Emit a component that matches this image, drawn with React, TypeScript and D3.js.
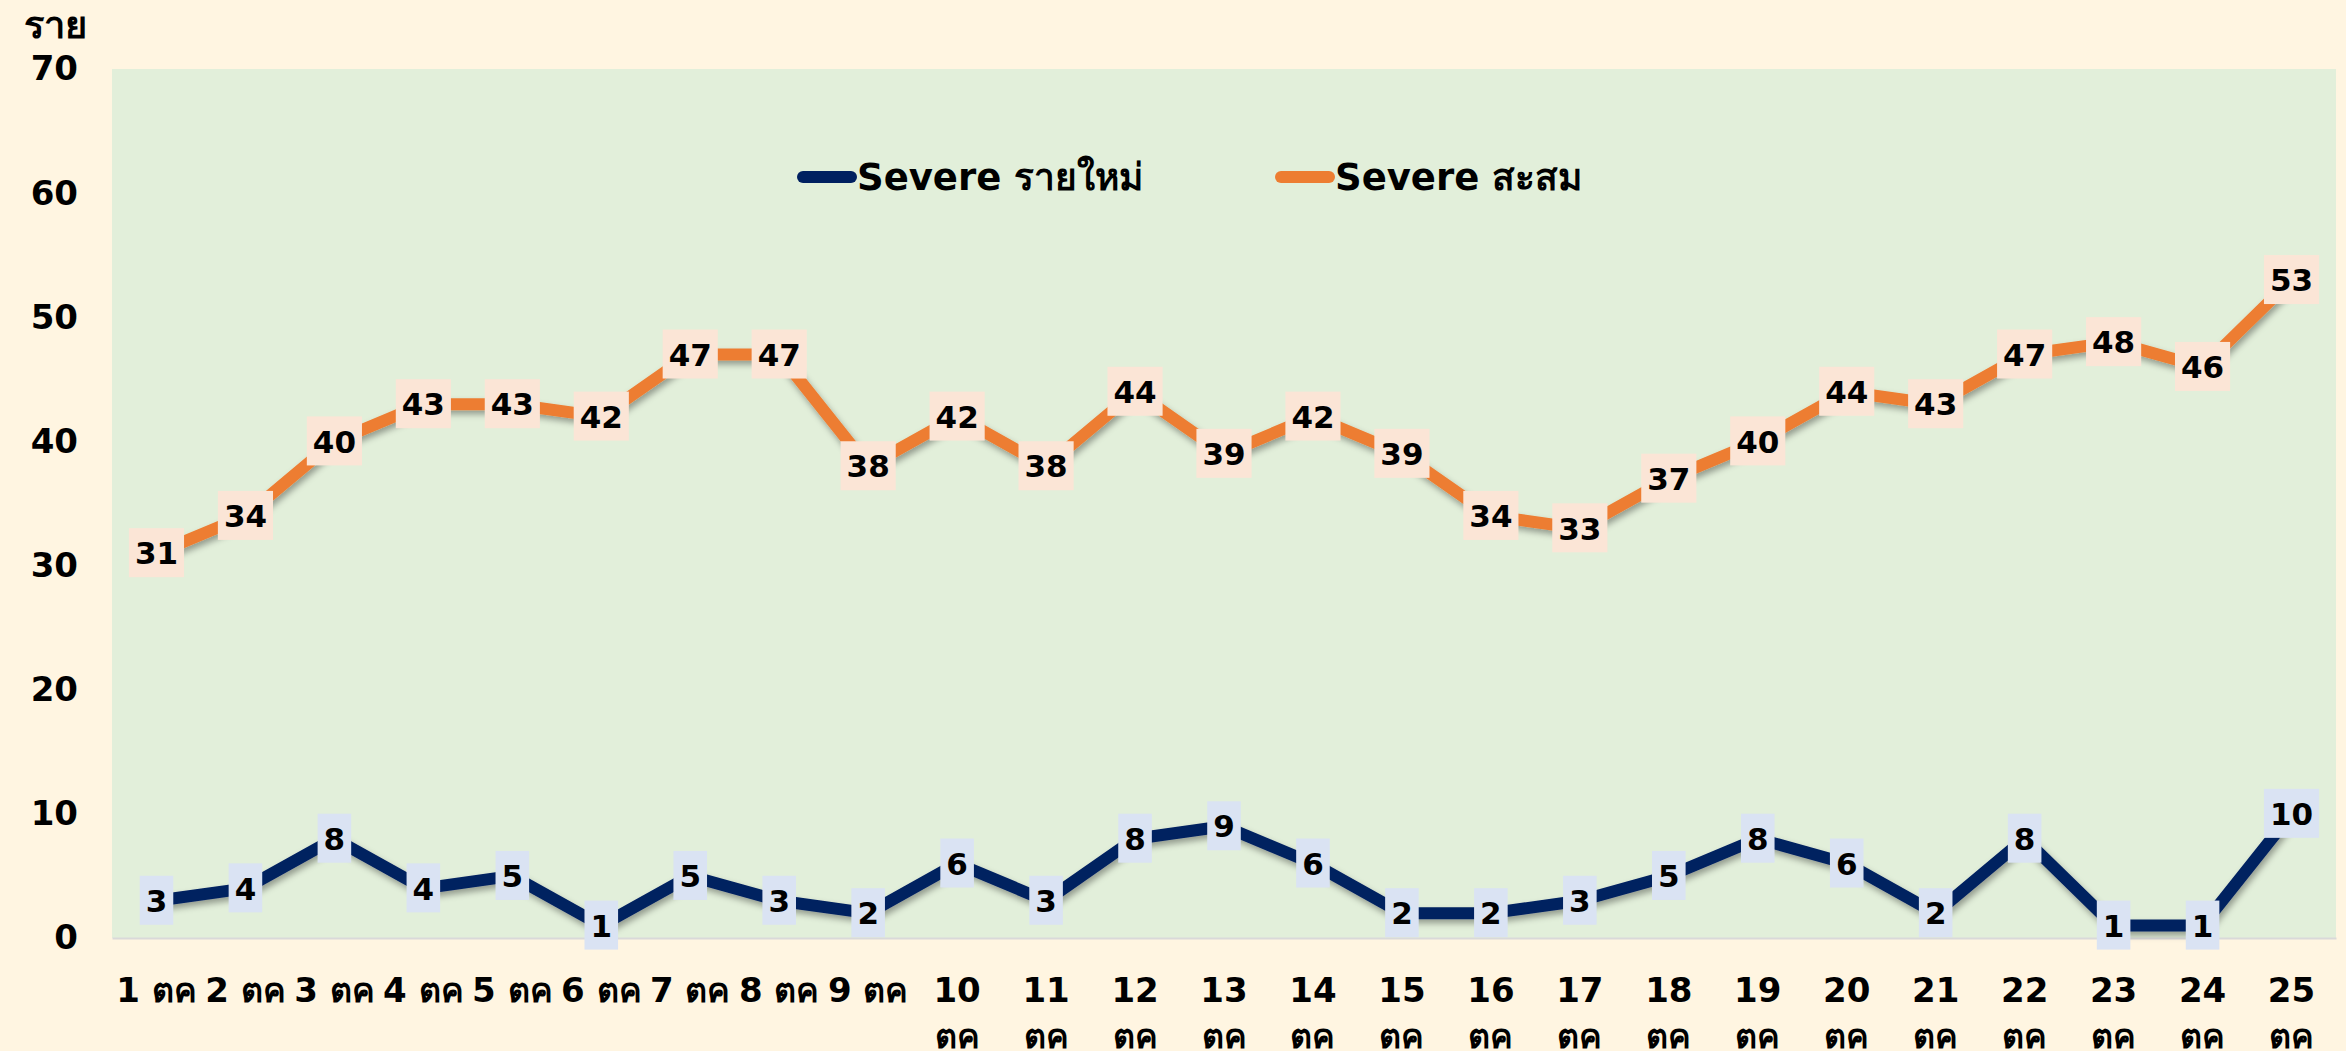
import { useEffect, useRef } from "react";
import * as d3 from "d3";

const days = [
  "1 ตค", "2 ตค", "3 ตค", "4 ตค", "5 ตค", "6 ตค", "7 ตค", "8 ตค", "9 ตค",
  "10 ตค", "11 ตค", "12 ตค", "13 ตค", "14 ตค", "15 ตค", "16 ตค", "17 ตค",
  "18 ตค", "19 ตค", "20 ตค", "21 ตค", "22 ตค", "23 ตค", "24 ตค", "25 ตค",
];
const severeNew = [3, 4, 8, 4, 5, 1, 5, 3, 2, 6, 3, 8, 9, 6, 2, 2, 3, 5, 8, 6, 2, 8, 1, 1, 10];
const severeTotal = [31, 34, 40, 43, 43, 42, 47, 47, 38, 42, 38, 44, 39, 42, 39, 34, 33, 37, 40, 44, 43, 47, 48, 46, 53];
const yTicks = [0, 10, 20, 30, 40, 50, 60, 70];
const seriesNames = ["Severe รายใหม่", "Severe สะสม"];
const yUnit = "ราย";

const W = 2346;
const H = 1051;
const FONT = "Tahoma, 'DejaVu Sans', 'Noto Sans', sans-serif";

export default function App() {
  const ref = useRef<SVGSVGElement>(null);

  useEffect(() => {
    if (!ref.current) return;
    const margin = { top: 69, right: 10, bottom: 113, left: 112 };

    const svg = d3.select(ref.current);
    svg.selectAll("*").remove();

    // soft shadow under the lines
    const defs = svg.append("defs");
    defs.append("filter")
      .attr("id", "shadow")
      .attr("x", "-10%").attr("y", "-30%")
      .attr("width", "120%").attr("height", "160%")
      .append("feDropShadow")
      .attr("dx", 2).attr("dy", 4)
      .attr("stdDeviation", 3)
      .attr("flood-color", "#000")
      .attr("flood-opacity", 0.35);

    svg.append("rect").attr("width", W).attr("height", H).attr("fill", "#FFF5E1");

    const x = d3.scaleBand().domain(days).range([margin.left, W - margin.right]);
    const y = d3.scaleLinear().domain([0, 70]).range([H - margin.bottom, margin.top]);
    const cx = (d: string) => (x(d) as number) + x.bandwidth() / 2;

    // plot area
    svg.append("rect")
      .attr("x", margin.left)
      .attr("y", margin.top)
      .attr("width", W - margin.left - margin.right)
      .attr("height", y(0) - margin.top)
      .attr("fill", "#E2EFDA");

    // Y axis
    const yAxis = svg.append("g")
      .attr("transform", `translate(${margin.left},0)`)
      .call(d3.axisLeft(y).tickValues(yTicks).tickSize(0).tickPadding(34))
      .call(g => g.select(".domain").remove());
    yAxis.selectAll("text")
      .attr("font-family", FONT)
      .attr("font-size", 34)
      .attr("font-weight", "bold")
      .attr("fill", "#000");

    svg.append("text")
      .attr("x", 87)
      .attr("y", 38)
      .attr("text-anchor", "end")
      .attr("font-family", FONT)
      .attr("font-size", 38)
      .attr("font-weight", "bold")
      .text(yUnit);

    // X axis, labels from 10 on wrap onto two lines
    const xAxis = svg.append("g")
      .attr("transform", `translate(0,${y(0)})`)
      .call(d3.axisBottom(x).tickSize(0));
    xAxis.select(".domain").attr("stroke", "#D9D9D9").attr("stroke-width", 2);
    xAxis.selectAll<SVGTextElement, string>(".tick text")
      .attr("font-family", FONT)
      .attr("font-size", 34)
      .attr("font-weight", "bold")
      .attr("fill", "#000")
      .attr("dy", null)
      .each(function (d) {
        const t = d3.select(this);
        t.text(null);
        const parts = d.length > 4 ? d.split(" ") : [d];
        parts.forEach((p, i) => {
          t.append("tspan").attr("x", 0).attr("y", 64 + i * 46).text(p);
        });
      });

    const series = [
      { values: severeTotal, color: "#ED7D31", box: "#FBE5D6" },
      { values: severeNew, color: "#002060", box: "#DAE3F3" },
    ];

    const line = d3.line<number>()
      .x((_, i) => cx(days[i]))
      .y(d => y(d));

    series.forEach(s => {
      svg.append("path")
        .datum(s.values)
        .attr("fill", "none")
        .attr("stroke", s.color)
        .attr("stroke-width", 12)
        .attr("stroke-linejoin", "round")
        .attr("filter", "url(#shadow)")
        .attr("d", line);
    });

    // data labels
    series.forEach(s => {
      const g = svg.append("g");
      s.values.forEach((v, i) => {
        const lg = g.append("g").attr("transform", `translate(${cx(days[i])},${y(v)})`);
        const rect = lg.append("rect").attr("fill", s.box);
        const txt = lg.append("text")
          .attr("text-anchor", "middle")
          .attr("dy", "0.36em")
          .attr("font-family", FONT)
          .attr("font-size", 31)
          .attr("font-weight", "bold")
          .attr("fill", "#000")
          .text(v);
        const w = (txt.node() as SVGTextElement).getComputedTextLength() + 12;
        rect.attr("x", -w / 2).attr("y", -25).attr("width", w).attr("height", 49);
      });
    });

    // legend
    const legendX = [797, 1275];
    const legendY = 177;
    [series[1], series[0]].forEach((s, i) => {
      const lg = svg.append("g").attr("transform", `translate(${legendX[i]},${legendY})`);
      lg.append("line")
        .attr("x1", 6).attr("x2", 54)
        .attr("stroke", s.color)
        .attr("stroke-width", 12)
        .attr("stroke-linecap", "round");
      lg.append("text")
        .attr("x", 60)
        .attr("dy", "0.36em")
        .attr("font-family", FONT)
        .attr("font-size", 37)
        .attr("font-weight", "bold")
        .text(seriesNames[i]);
    });
  }, []);

  return (
    <svg
      ref={ref}
      width={W}
      height={H}
      style={{ position: "absolute", left: 0, top: 0, display: "block" }}
    />
  );
}
